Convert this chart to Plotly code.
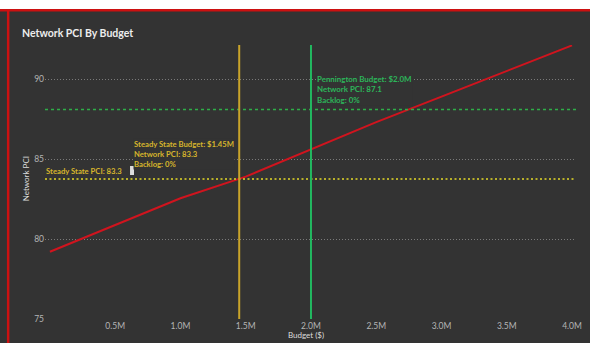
import plotly.graph_objects as go

# ---------------- data ----------------
budget_m = [0.0, 0.5, 1.0, 1.5, 2.0, 2.5, 3.0, 3.5, 4.0]
network_pci = [79.2, 80.9, 82.55, 83.9, 85.6, 87.3, 88.9, 90.5, 92.1]

steady_budget = 1.45
steady_pci_line = 83.75
penn_budget = 2.0
penn_pci_line = 88.1

x_tickvals = [0.5, 1.0, 1.5, 2.0, 2.5, 3.0, 3.5, 4.0]
x_ticktext = ["0.5M", "1.0M", "1.5M", "2.0M", "2.5M", "3.0M", "3.5M", "4.0M"]
y_tickvals = [75, 80, 85, 90]

title_text = "Network PCI By Budget"
steady_label = "Steady State Budget: $1.45M<br>Network PCI: 83.3<br>Backlog: 0%"
steady_pci_label = "Steady State PCI: 83.3"
penn_label = "Pennington Budget: $2.0M<br>Network PCI: 87.1<br>Backlog: 0%"

# ---------------- layout helpers ----------------
W, H = 590, 343
L, R, T, B = 45, 582, 45, 319

def px(x):
    return (x - L) / (R - L)

def py(y):
    return (B - y) / (B - T)

FONT = "Lato"
BG = "#333333"
YEL_TXT = "#D6B52C"
YEL_V = "#C9A42A"
YEL_H = "#B8B02A"
GRN_TXT = "#2DB55A"
GRN_V = "#22B860"
GRN_H = "#2FAE48"
RED = "#D0141E"

fig = go.Figure()
fig.add_trace(go.Scatter(x=budget_m, y=network_pci, mode="lines",
                         line=dict(color=RED, width=2), hoverinfo="skip",
                         showlegend=False))

# reference lines
fig.add_hline(y=penn_pci_line, line=dict(color=GRN_H, width=1.5, dash="3px,3px"))
fig.add_hline(y=steady_pci_line, line=dict(color=YEL_H, width=2.2, dash="2px,2.5px"))
fig.add_vline(x=steady_budget, line=dict(color=YEL_V, width=2))
fig.add_vline(x=penn_budget, line=dict(color=GRN_V, width=2))

shapes = []
shapes.append(dict(type="rect", xref="paper", yref="paper",
                   x0=px(-5), x1=px(600), y0=py(9), y1=py(-5),
                   fillcolor="white", line=dict(width=0), layer="above"))
shapes.append(dict(type="rect", xref="paper", yref="paper",
                   x0=px(-5), x1=px(600), y0=py(11.5), y1=py(9),
                   fillcolor="#CC1111", line=dict(width=0), layer="above"))
shapes.append(dict(type="rect", xref="paper", yref="paper",
                   x0=px(6.5), x1=px(9), y0=py(350), y1=py(9),
                   fillcolor="#CC1111", line=dict(width=0), layer="above"))
shapes.append(dict(type="rect", xref="paper", yref="paper",
                   x0=px(131), x1=px(135), y0=py(175), y1=py(166),
                   fillcolor="#DDDDDD", line=dict(width=0), layer="above"))
for s in shapes:
    fig.add_shape(**s)

def ann(text, x, y, size, color, weight="normal", xanchor="left", yanchor="middle",
        angle=0, align="left", bg=None):
    fig.add_annotation(text=text, xref="paper", yref="paper", x=px(x), y=py(y),
                       xanchor=xanchor, yanchor=yanchor, showarrow=False, textangle=angle,
                       align=align, bgcolor=bg, borderpad=0,
                       font=dict(family=FONT, size=size, color=color, weight=weight))

ann(title_text, 21, 33, 10.5, "#EDEDED", weight="bold")
ann(steady_label, 134, 153.5, 7.7, YEL_TXT, weight="bold", bg=BG)
ann(steady_pci_label, 45, 171, 7.7, YEL_TXT, weight="bold")
ann(penn_label, 319, 89, 7.9, GRN_TXT, weight="bold", bg=BG)
ann("Network PCI", 26, 179, 8, "#DDDDDD", xanchor="center", angle=-90)
ann("Budget ($)", 309, 335, 8, "#DDDDDD", xanchor="center")

fig.update_layout(
    width=W, height=H,
    margin=dict(l=L, r=W - R, t=T, b=H - B, pad=0),
    paper_bgcolor=BG, plot_bgcolor=BG,
    showlegend=False,
    xaxis=dict(range=[(L - 50) / 132, (R - 50) / 132], tickvals=x_tickvals, ticktext=x_ticktext,
               showgrid=False, zeroline=False, showline=False, ticks="",
               tickfont=dict(family=FONT, size=8.5, color="#B5B5B5")),
    yaxis=dict(range=[75, 75 + (B - T) / 16], tickvals=y_tickvals,
               showgrid=True, gridcolor="#7A7A7A", griddash="1px,2px", gridwidth=1,
               zeroline=False, showline=False, ticks="",
               tickfont=dict(family=FONT, size=8.5, color="#B5B5B5")),
)

fig.write_html("out.html", config={"displayModeBar": False})
